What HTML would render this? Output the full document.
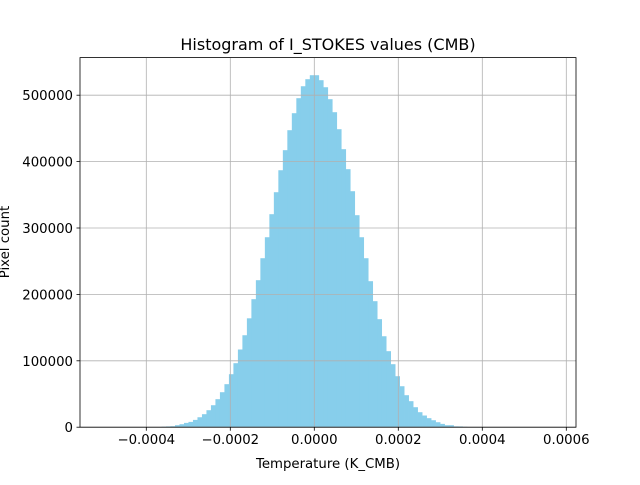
<!DOCTYPE html>
<html><head><meta charset="utf-8"><style>
body{margin:0;background:#fff}
svg text{font-family:"DejaVu Sans","Liberation Sans",sans-serif;fill:#000}
</style></head><body>
<svg id="chart" width="640" height="480" viewBox="0 0 640 480" xmlns="http://www.w3.org/2000/svg">
<rect x="0" y="0" width="640" height="480" fill="#fff"/>
<text x="328" y="50" font-size="16" text-anchor="middle">Histogram of I_STOKES values (CMB)</text>
<g id="bars"></g>
<g id="grid"></g>
<rect x="80" y="57.6" width="496" height="369.6" fill="none" stroke="#000" stroke-width="0.8"/>
<g id="xticks"></g>
<g id="yticks"></g>
<text x="328" y="468" font-size="13.3" text-anchor="middle">Temperature (K_CMB)</text>
<text x="0" y="0" font-size="13.3" text-anchor="middle" transform="translate(9,242) rotate(-90)">Pixel count</text>
</svg>
<script>
const binStart = -3.638e-4;
const binWidth = 1.07e-5;
const counts = [800,1200,1500,3000,4500,6500,8000,11000,15000,19600,25600,33100,42200,52700,64800,79800,96400,117000,138500,164000,192800,221400,254500,286100,320800,353900,387000,417200,447300,472900,495500,513500,524100,530100,530100,522600,512000,494000,474400,448800,418700,388600,355400,319300,286100,254500,219900,189800,162700,137000,114500,94900,76800,61700,48200,39200,30100,22600,17600,13600,10500,7500,5000,3000,3000,1300,1200,600];
const xTicks = [-0.0004,-0.0002,0,0.0002,0.0004,0.0006];
const xTickLabels = ["\u22120.0004","\u22120.0002","0.0000","0.0002","0.0004","0.0006"];
const yTicks = [0,100000,200000,300000,400000,500000];
const yTickLabels = ["0","100000","200000","300000","400000","500000"];

const NS="http://www.w3.org/2000/svg";
const X0=80,X1=576,Y0=427.2,Y1=57.6;
const xmin=(80-314.3)/420000, xmax=(576-314.3)/420000;
const ymin=0, ymax=(427.2-57.6)/0.000664;
function xs(v){return X0+(v-xmin)/(xmax-xmin)*(X1-X0);}
function ys(v){return Y0-(v-ymin)/(ymax-ymin)*(Y0-Y1);}
function mk(tag,attrs,parent){const e=document.createElementNS(NS,tag);for(const k in attrs)e.setAttribute(k,attrs[k]);parent.appendChild(e);return e;}
const gb=document.getElementById('bars'),gg=document.getElementById('grid'),gx=document.getElementById('xticks'),gy=document.getElementById('yticks');
counts.forEach((c,i)=>{
  const a=xs(binStart+i*binWidth),b=xs(binStart+(i+1)*binWidth);
  const r=mk('rect',{x:a,y:ys(c),width:b-a+0.3,height:ys(0)-ys(c),fill:'#87ceeb'},gb);
  
  
});
xTicks.forEach((t,i)=>{
  const x=xs(t);
  const l=mk('line',{x1:x,x2:x,y1:Y1,y2:Y0,stroke:'#b0b0b0','stroke-width':0.8},gg);
  
  
  mk('line',{x1:x,x2:x,y1:Y0,y2:Y0+3.5,stroke:'#000','stroke-width':0.8},gx);
  const tx=mk('text',{x:x,y:Y0+17,'font-size':13.3,'text-anchor':'middle'},gx);
  tx.textContent=xTickLabels[i];
  
  
});
yTicks.forEach((t,i)=>{
  const y=ys(t);
  const l=mk('line',{x1:X0,x2:X1,y1:y,y2:y,stroke:'#b0b0b0','stroke-width':0.8},gg);
  
  
  mk('line',{x1:X0-3.5,x2:X0,y1:y,y2:y,stroke:'#000','stroke-width':0.8},gy);
  const tx=mk('text',{x:X0-7,y:y+5,'font-size':13.3,'text-anchor':'end'},gy);
  tx.textContent=yTickLabels[i];
  
  
});
</script>
</body></html>
